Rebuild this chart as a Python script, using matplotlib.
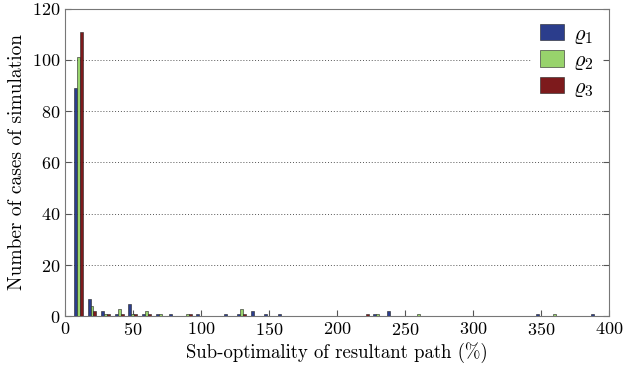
import numpy as np
import matplotlib
matplotlib.use("Agg")
import matplotlib.pyplot as plt

plt.rcParams['font.family'] = 'cmr10'
plt.rcParams['mathtext.fontset'] = 'cm'
plt.rcParams['axes.formatter.use_mathtext'] = True

# bin centres of the sub-optimality histogram (%)
bins = np.arange(10, 400, 10)

# number of cases per bin for each heuristic
rho1 = [89, 7, 2, 1, 5, 1, 1, 1, 0, 1, 0, 1, 1, 2, 1, 1, 0, 0, 0, 0,
        0, 0, 1, 2, 0, 0, 0, 0, 0, 0, 0, 0, 0, 0, 1, 0, 0, 0, 1]
rho2 = [101, 4, 1, 3, 1, 2, 1, 0, 1, 0, 0, 0, 3, 0, 0, 0, 0, 0, 0, 0,
        0, 0, 1, 0, 0, 1, 0, 0, 0, 0, 0, 0, 0, 0, 0, 1, 0, 0, 0]
rho3 = [111, 2, 1, 1, 1, 1, 0, 0, 1, 0, 0, 0, 1, 0, 0, 0, 0, 0, 0, 0,
        0, 1, 0, 0, 0, 0, 0, 0, 0, 0, 0, 0, 0, 0, 0, 0, 0, 0, 0]

labels = [r'$\varrho_1$', r'$\varrho_2$', r'$\varrho_3$']
colors = ['#2b3d8c', '#98d36c', '#7d1a1c']

fig = plt.figure(figsize=(6.23, 3.71), dpi=100)
ax = fig.add_axes([0.104, 0.147, 0.8735, 0.83])

w = 2.2
for i, (vals, lab, c) in enumerate(zip([rho1, rho2, rho3], labels, colors)):
    ax.bar(bins + (i - 1) * w, vals, width=w, color=c, edgecolor='#222222',
           linewidth=0.4, label=lab, zorder=3)

ax.set_xlim(0, 400)
ax.set_ylim(0, 120)
ax.set_xticks(range(0, 401, 50))
ax.set_yticks(range(0, 121, 20))
ax.yaxis.grid(True, linestyle=(0, (1, 2)), color='#555555', linewidth=0.7)
ax.tick_params(direction='in', length=4, labelsize=13, right=True, top=False,
               color='#555555')
for s in ax.spines.values():
    s.set_color('#777777')
    s.set_linewidth(0.8)

ax.set_xlabel('Sub-optimality of resultant path (%)', fontsize=13.5, labelpad=3)
ax.set_ylabel('Number of cases of simulation', fontsize=14, labelpad=4)

leg = ax.legend(loc='upper right', fontsize=16, frameon=True, fancybox=False,
                edgecolor='white', framealpha=1, handlelength=1.1,
                handleheight=0.75, handletextpad=0.4, borderaxespad=0.3,
                borderpad=0.4, labelspacing=0.2)
leg.set_zorder(5)

fig.savefig('out.png', dpi=100)
